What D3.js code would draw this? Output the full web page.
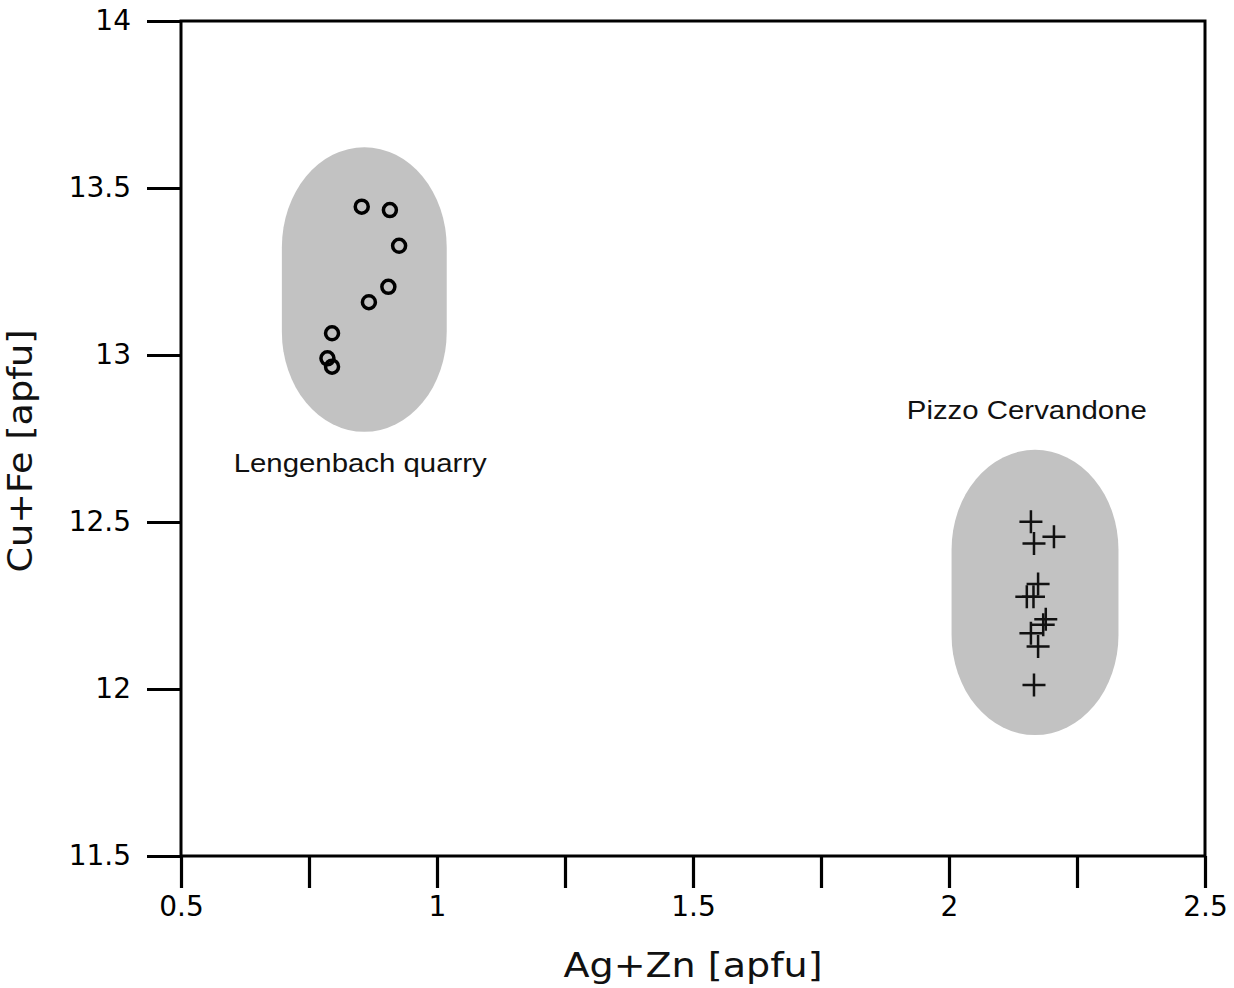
<!DOCTYPE html>
<html>
<head>
<meta charset="utf-8">
<script src="https://cdn.jsdelivr.net/npm/d3@7"></script>
<style>
  html, body { margin: 0; padding: 0; background: #fff; }
  svg { display: block; }
</style>
</head>
<body>
<div id="chart"></div>
<script>
// Lengenbach quarry analyses (open circles)
const lengenbachAgZn = [0.853, 0.908, 0.926, 0.905, 0.867, 0.795, 0.786, 0.795];
const lengenbachCuFe = [13.444, 13.434, 13.327, 13.204, 13.158, 13.065, 12.990, 12.965];

// Pizzo Cervandone analyses (crosses)
const pizzoAgZn = [2.160, 2.166, 2.205, 2.174, 2.165, 2.152, 2.189, 2.184, 2.160, 2.174, 2.166];
const pizzoCuFe = [12.501, 12.436, 12.456, 12.314, 12.276, 12.276, 12.209, 12.192, 12.167, 12.127, 12.012];

// grey fields around each group: [xmin, xmax, ymin, ymax]
const lengenbachField = [0.697, 1.019, 12.770, 13.622];
const pizzoField = [2.005, 2.331, 11.862, 12.716];

// labels: [x, y, text]
const fieldLabels = [
  [0.850, 12.650, "Lengenbach quarry"],
  [2.152, 12.808, "Pizzo Cervandone"]
];

const xTicks = [0.5, 0.75, 1, 1.25, 1.5, 1.75, 2, 2.25, 2.5];
const yTicks = [11.5, 12, 12.5, 13, 13.5, 14];
const xTitle = "Ag+Zn [apfu]";
const yTitle = "Cu+Fe [apfu]";

const width = 1234, height = 988;
const margin = {top: 21, right: 29, bottom: 132, left: 181};

const svg = d3.select("#chart")
  .append("svg")
  .attr("width", width)
  .attr("height", height);

const x = d3.scaleLinear()
  .domain([0.5, 2.5])
  .range([margin.left, width - margin.right]);

const y = d3.scaleLinear()
  .domain([11.5, 14])
  .range([height - margin.bottom, margin.top]);

// grey fields (stadium shapes)
[lengenbachField, pizzoField].forEach((f) => {
  const w = x(f[1]) - x(f[0]);
  svg.append("rect")
    .attr("x", x(f[0]))
    .attr("y", y(f[3]))
    .attr("width", w)
    .attr("height", y(f[2]) - y(f[3]))
    .attr("rx", w / 2)
    .attr("ry", 100)
    .attr("fill", "#c2c2c2");
});

// frame
svg.append("rect")
  .attr("x", x(0.5))
  .attr("y", y(14))
  .attr("width", x(2.5) - x(0.5))
  .attr("height", y(11.5) - y(14))
  .attr("fill", "none")
  .attr("stroke", "#000")
  .attr("stroke-width", 3);

// x axis
const fmt = (d) => Number.isInteger(d * 2) ? String(d) : "";
svg.append("g")
  .attr("transform", `translate(0,${y(11.5)})`)
  .call(d3.axisBottom(x).tickValues(xTicks).tickFormat(fmt).tickSize(32).tickSizeOuter(0).tickPadding(8))
  .call((g) => g.select(".domain").remove())
  .call((g) => g.selectAll("line").attr("stroke-width", 3.2))
  .call((g) => g.selectAll("text")
    .attr("font-family", "'DejaVu Sans', sans-serif")
    .attr("font-size", "28px")
    .attr("fill", "#000"));

// y axis
svg.append("g")
  .attr("transform", `translate(${x(0.5)},0)`)
  .call(d3.axisLeft(y).tickValues(yTicks).tickFormat((d) => String(d)).tickSize(34).tickSizeOuter(0).tickPadding(16))
  .call((g) => g.select(".domain").remove())
  .call((g) => g.selectAll("line").attr("stroke-width", 3.2))
  .call((g) => g.selectAll("text")
    .attr("font-family", "'DejaVu Sans', sans-serif")
    .attr("font-size", "28px")
    .attr("fill", "#000"));

// axis titles (slightly wide lettering as in the original)
svg.append("text")
  .attr("transform", `translate(${x(1.5)},977) scale(1.12,1)`)
  .attr("text-anchor", "middle")
  .attr("font-family", "'DejaVu Sans', sans-serif")
  .attr("font-size", "34px")
  .attr("fill", "#111")
  .text(xTitle);

svg.append("text")
  .attr("transform", `translate(32,451) rotate(-90) scale(1.11,1)`)
  .attr("text-anchor", "middle")
  .attr("font-family", "'DejaVu Sans', sans-serif")
  .attr("font-size", "33px")
  .attr("fill", "#111")
  .text(yTitle);

// field labels
svg.selectAll(".field-label")
  .data(fieldLabels)
  .enter()
  .append("text")
  .attr("class", "field-label")
  .attr("transform", (d) => `translate(${x(d[0])},${y(d[1])}) scale(1.13,1)`)
  .attr("text-anchor", "middle")
  .attr("font-family", "'Liberation Sans', Arial, sans-serif")
  .attr("font-size", "26px")
  .attr("fill", "#111")
  .text((d) => d[2]);

// Lengenbach circles
svg.selectAll(".lng")
  .data(d3.range(lengenbachAgZn.length))
  .enter()
  .append("circle")
  .attr("class", "lng")
  .attr("cx", (i) => x(lengenbachAgZn[i]))
  .attr("cy", (i) => y(lengenbachCuFe[i]))
  .attr("r", 6.5)
  .attr("fill", "none")
  .attr("stroke", "#000")
  .attr("stroke-width", 3.5);

// Pizzo crosses
svg.selectAll(".pzc")
  .data(d3.range(pizzoAgZn.length))
  .enter()
  .append("path")
  .attr("class", "pzc")
  .attr("transform", (i) => `translate(${x(pizzoAgZn[i])},${y(pizzoCuFe[i])})`)
  .attr("d", "M-11.5,0H11.5M0,-11.5V11.5")
  .attr("fill", "none")
  .attr("stroke", "#111")
  .attr("stroke-width", 2.5);
</script>
</body>
</html>
